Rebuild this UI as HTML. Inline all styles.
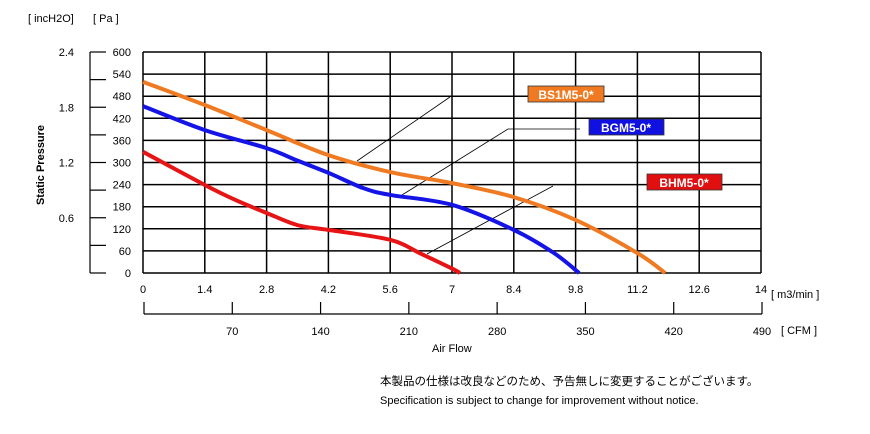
<!DOCTYPE html>
<html><head><meta charset="utf-8"><style>
body{margin:0;background:#fff;width:870px;height:429px;overflow:hidden;font-family:"Liberation Sans","Noto Sans CJK JP",sans-serif}
svg text{font-family:"Liberation Sans","Noto Sans CJK JP",sans-serif}
</style></head><body>
<svg id="chart" width="870" height="429" viewBox="0 0 870 429" xmlns="http://www.w3.org/2000/svg">
<g id="grid"></g>
<g id="axes"></g>
<g id="leaders" stroke="#000" stroke-width="0.8" fill="none">
<line x1="450" y1="97" x2="357" y2="161"/>
<polyline points="580,129 508,129 402,195"/>
<line x1="553" y1="186" x2="427" y2="254"/>
</g>
<g id="series"></g>
<g><rect x="528" y="86" width="76" height="16" fill="#f07a22" stroke="#333" stroke-width="0.8"/><text x="566" y="99" font-size="12" font-weight="bold" fill="#fff" text-anchor="middle">BS1M5-0*</text></g>
<g><rect x="589" y="119" width="75" height="16" fill="#1010e0" stroke="#333" stroke-width="0.8"/><text x="626" y="132" font-size="12" font-weight="bold" fill="#fff" text-anchor="middle">BGM5-0*</text></g>
<g><rect x="647" y="174" width="75" height="16" fill="#e01010" stroke="#333" stroke-width="0.8"/><text x="684" y="187" font-size="12" font-weight="bold" fill="#fff" text-anchor="middle">BHM5-0*</text></g>
<text x="380" y="385" font-size="11.5" fill="#000">本製品の仕様は改良などのため、予告無しに変更することがございます。</text>
<text x="380" y="404" font-size="11" fill="#000">Specification is subject to change for improvement without notice.</text>
</svg>
<script>
const flowTicks=[0,1.4,2.8,4.2,5.6,7,8.4,9.8,11.2,12.6,14];
const flowTickLabels=["0","1.4","2.8","4.2","5.6","7","8.4","9.8","11.2","12.6","14"];
const paTicks=[0,60,120,180,240,300,360,420,480,540,600];
const inchTicks=[0,0.3,0.6,0.9,1.2,1.5,1.8,2.1,2.4];
const inchTickLabels=["","","0.6","","1.2","","1.8","","2.4"];
const cfmTicks=[0,70,140,210,280,350,420,490];
const cfmTickLabels=["","70","140","210","280","350","420","490"];
const bs1Flow=[0,1.4,2.8,4.2,5.6,7,8.4,9.8,11.2,11.83];
const bs1Pa=[519,456,388,320,274,244,206,144,54,0];
const bgmFlow=[0,1.4,2.8,3.5,4.2,5.0,5.6,7,8.4,9.3,9.88];
const bgmPa=[453,388,339,305,272,230,212,185,117,55,0];
const bhmFlow=[0,1.4,2.1,2.8,3.5,4.2,5.6,6.3,7,7.18];
const bhmPa=[329,239,198,163,130,117,90,52,12,0];
const X0=143,X1=761,Y0=273,Y1=52;
const x=f=>X0+f/14*(X1-X0);
const y=p=>Y0-p/600*(Y0-Y1);
const yi=i=>Y0-i/2.4*(Y0-Y1);
const xc=c=>144+c/490*(762-144);
const NS="http://www.w3.org/2000/svg";
function mk(tag,attrs,parent,txt){const e=document.createElementNS(NS,tag);for(const k in attrs)e.setAttribute(k,attrs[k]);if(txt!==undefined)e.textContent=txt;parent.appendChild(e);return e;}
const grid=document.getElementById('grid'),axes=document.getElementById('axes'),series=document.getElementById('series');
flowTicks.forEach((f,i)=>{
 const l=mk('line',{x1:x(f),x2:x(f),y1:Y1,y2:Y0,stroke:'#000','stroke-width':1.5},grid);
 
 
 const t=mk('text',{x:x(f),y:293,'font-size':11,'text-anchor':'middle'},axes,flowTickLabels[i]);
 
 
});
paTicks.forEach(p=>{
 const l=mk('line',{x1:X0,x2:X1,y1:y(p),y2:y(p),stroke:'#000','stroke-width':1.5},grid);
 
 
 const t=mk('text',{x:131,y:y(p)+4,'font-size':11,'text-anchor':'end'},axes,String(p));
 
 
});
mk('line',{x1:90,x2:90,y1:Y1,y2:Y0,stroke:'#000','stroke-width':1.2},axes);
inchTicks.forEach((v,i)=>{
 const l=mk('line',{x1:90,x2:106,y1:yi(v),y2:yi(v),stroke:'#000','stroke-width':1.2},axes);
 
 
 if(inchTickLabels[i]){const t=mk('text',{x:74,y:yi(v)+4,'font-size':11,'text-anchor':'end'},axes,inchTickLabels[i]);
 
 }
});
mk('line',{x1:xc(0),x2:xc(490),y1:314,y2:314,stroke:'#000','stroke-width':1.2},axes);
cfmTicks.forEach((c,i)=>{
 const l=mk('line',{x1:xc(c),x2:xc(c),y1:302,y2:314,stroke:'#000','stroke-width':1.2},axes);
 
 
 if(cfmTickLabels[i]){const t=mk('text',{x:xc(c),y:335,'font-size':11,'text-anchor':'middle'},axes,cfmTickLabels[i]);
 
 }
});
const lbls=[[28,22,'[ incH2O]','inch-unit'],[93,22,'[ Pa ]','pa-unit'],[771,298,'[ m3/min ]','m3min-unit'],[781,334,'[ CFM ]','cfm-unit'],[432,352,'Air   Flow','x-axis-title']];
lbls.forEach(a=>{const t=mk('text',{x:a[0],y:a[1],'font-size':11,'xml:space':'preserve'},axes,a[2]);
 
 });
const st=mk('text',{x:0,y:0,'font-size':11,'font-weight':'bold',transform:'translate(44,165) rotate(-90)','text-anchor':'middle'},axes,'Static Pressure');


function path(fs,ps){const pts=fs.map((f,i)=>[x(f),y(ps[i])]);let d='M'+pts[0].join(',');
 for(let i=0;i<pts.length-1;i++){const p0=pts[Math.max(0,i-1)],p1=pts[i],p2=pts[i+1],p3=pts[Math.min(pts.length-1,i+2)];
 d+=` C${p1[0]+(p2[0]-p0[0])/6},${p1[1]+(p2[1]-p0[1])/6} ${p2[0]-(p3[0]-p1[0])/6},${p2[1]-(p3[1]-p1[1])/6} ${p2[0]},${p2[1]}`;}return d;}
[[bs1Flow,bs1Pa,'#f07a22','curve-bs1m5'],[bgmFlow,bgmPa,'#1414e6','curve-bgm5'],[bhmFlow,bhmPa,'#e61414','curve-bhm5']].forEach(s=>{
 const p=mk('path',{d:path(s[0],s[1]),fill:'none',stroke:s[2],'stroke-width':4,'stroke-linejoin':'round'},series);
 
 
});
</script>
</body></html>
